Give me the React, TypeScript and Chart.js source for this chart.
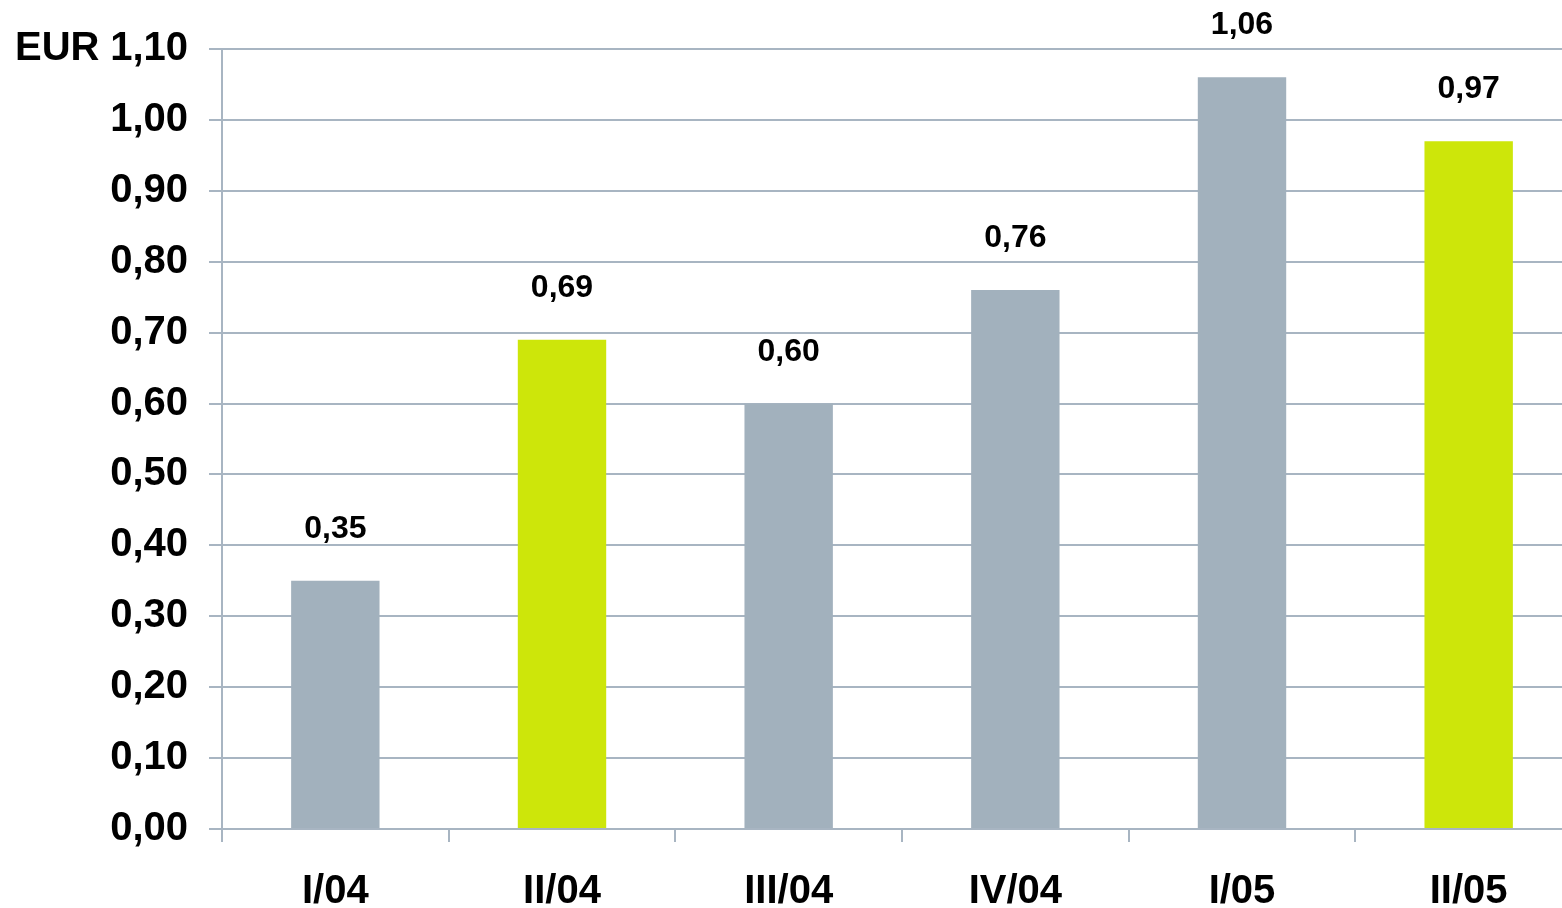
import React, { useEffect, useRef } from "react";
import { Chart, registerables } from "chart.js";

Chart.register(...registerables);

// Quarterly figures in EUR
const categories = ["I/04", "II/04", "III/04", "IV/04", "I/05", "II/05"];
const values = [0.35, 0.69, 0.6, 0.76, 1.06, 0.97];
const barColors = ["#a2b1bd", "#cde60a", "#a2b1bd", "#a2b1bd", "#a2b1bd", "#cde60a"];
const unitLabel = "EUR";

const FONT = "'Liberation Sans', Arial, Helvetica, sans-serif";
const GRID = "#a8b5c2";

const fmt = (v: number) => v.toFixed(2).replace(".", ",");

const valueLabels = {
  id: "valueLabels",
  afterDatasetsDraw(chart: any) {
    const { ctx } = chart;
    const meta = chart.getDatasetMeta(0);
    ctx.save();
    ctx.font = `bold 32px ${FONT}`;
    ctx.fillStyle = "#000";
    ctx.textAlign = "center";
    ctx.textBaseline = "alphabetic";
    meta.data.forEach((bar: any, i: number) => {
      ctx.fillText(fmt(values[i]), bar.x, bar.y - 43);
    });
    // unit caption beside the top tick
    const y = chart.scales.y.getPixelForValue(1.1);
    ctx.font = `bold 40px ${FONT}`;
    ctx.textAlign = "left";
    ctx.textBaseline = "middle";
    ctx.fillText(unitLabel, 15, y);
    ctx.restore();
  },
};

export default function App() {
  const ref = useRef<HTMLCanvasElement>(null);

  useEffect(() => {
    if (!ref.current) return;
    const chart = new Chart(ref.current, {
      type: "bar",
      data: {
        labels: categories,
        datasets: [
          {
            data: values,
            backgroundColor: barColors,
            borderWidth: 0,
            barPercentage: 0.39,
            categoryPercentage: 1,
          },
        ],
      },
      options: {
        responsive: false,
        animation: false,
        devicePixelRatio: 1,
        layout: { padding: { top: 49, left: 0, right: 38, bottom: 17 } },
        plugins: {
          legend: { display: false },
          tooltip: { enabled: false },
        },
        scales: {
          x: {
            grid: {
              offset: true,
              drawOnChartArea: false,
              color: GRID,
              lineWidth: 2,
              tickLength: 13,
            },
            border: { display: false },
            ticks: {
              color: "#000",
              padding: 26,
              font: { family: FONT, size: 40, weight: "bold" },
            },
          },
          y: {
            min: 0,
            max: 1.1,
            afterFit(axis: any) {
              axis.width = 222;
            },
            grid: {
              color: GRID,
              lineWidth: 2,
              tickLength: 13,
            },
            border: { display: true, color: GRID, width: 2 },
            ticks: {
              stepSize: 0.1,
              color: "#000",
              padding: 21,
              font: { family: FONT, size: 40, weight: "bold" },
              callback: (v: any) => fmt(Number(v)),
            },
          },
        },
      },
      plugins: [valueLabels],
    });
    return () => chart.destroy();
  }, []);

  return (
    <div
      style={{
        position: "fixed",
        left: 0,
        top: 0,
        width: 1562,
        height: 908,
        overflow: "hidden",
        background: "#fff",
      }}
    >
      <canvas ref={ref} width={1620} height={959} style={{ display: "block" }} />
    </div>
  );
}
